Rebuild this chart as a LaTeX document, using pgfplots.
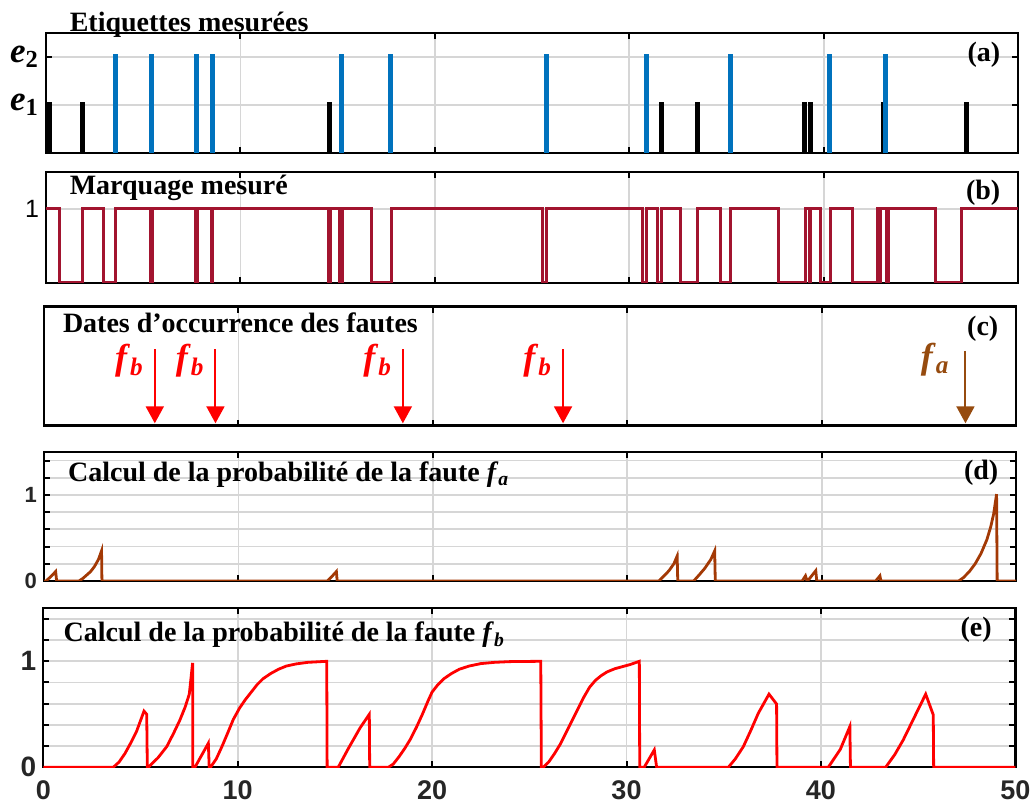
\documentclass[border=0pt]{standalone}
\usepackage{amsmath}
\usepackage{fontspec}
\setmainfont{Liberation Serif}
\newfontfamily\arialf{Liberation Sans}
\usepackage{pgfplots}
\pgfplotsset{compat=1.18}
\usetikzlibrary{arrows.meta}

\definecolor{mblue}{RGB}{0,114,189}
\definecolor{mred}{RGB}{162,20,47}
\definecolor{fabrown}{RGB}{163,57,5}
\definecolor{arrbrown}{RGB}{150,75,15}
\definecolor{gridc}{RGB}{214,214,214}
\definecolor{tickc}{RGB}{38,38,38}

\newcommand{\ttl}[1]{{\fontsize{14}{14}\selectfont\bfseries #1}}
\newcommand{\fsub}[2]{\textbf{\textit{#1}}\ensuremath{_{\textbf{\textit{#2}}}}}

\pgfplotsset{
  panel/.style={
    scale only axis, width=486pt,
    xmin=0, xmax=50,
    xtick={10,20,30,40}, xticklabels={},
    xmajorgrids, major grid style={gridc, line width=0.9pt},
    axis line style={black, line width=1.2pt},
    major tick length=3pt,
    tick style={black, line width=1pt},
    tick align=inside,
    clip mode=individual,
    anchor=south west,
  },
  probticks/.style={
    ymin=0, ymax=1.5,
    ytick={0,0.2,0.4,0.6,0.8,1,1.2,1.4},
    yticklabels={0,,,,,1,,},
    ymajorgrids,
  },
  fault/.style={line width=1pt, -{Triangle[width=9pt,length=8.5pt]}},
}

\begin{document}
\begin{tikzpicture}

% (a) etiquettes
\begin{axis}[panel, at={(23pt,327pt)}, height=60pt,
  ymin=0, ymax=2.5, ytick={1,2}, ymajorgrids,
  yticklabels={\textbf{\textit{e}}\ensuremath{_{\textbf{1}}}, \textbf{\textit{e}}\ensuremath{_{\textbf{2}}}},
  yticklabel style={font=\fontsize{17.5}{17.5}\selectfont}]
\addplot[ycomb, black, line width=2.5pt, mark=none] coordinates {
  (0.18,1.06) (1.9,1.06) (14.6,1.06) (31.66,1.06) (33.5,1.06)
  (39.0,1.06) (39.3,1.06) (43.1,1.06) (47.35,1.06)};
\addplot[ycomb, mblue, line width=2.5pt, mark=none] coordinates {
  (3.6,2.06) (5.44,2.06) (7.75,2.06) (8.58,2.06) (15.2,2.06) (17.73,2.06)
  (25.75,2.06) (30.9,2.06) (35.2,2.06) (40.3,2.06) (43.2,2.06)};
\node[anchor=base west] at (rel axis cs:0.0172,1.011) {\ttl{Etiquettes mesurées}};
\node[anchor=base east] at (rel axis cs:0.989,0.76) {\ttl{(a)}};
\end{axis}

% (b) marquage
\begin{axis}[panel, at={(23pt,262pt)}, height=55.5pt,
  ymin=0, ymax=1.5, ytick={1}, yticklabels={1}, ymajorgrids,
  yticklabel style={font=\arialf\fontsize{12.5}{12.5}\selectfont}]
\addplot[mred, line width=1.5pt, mark=none] coordinates {
  (0,1) (0.69,1) (0.69,0) (1.9,0) (1.9,1) (2.97,1) (2.97,0) (3.6,0) (3.6,1)
  (5.36,1) (5.36,0) (5.46,0) (5.46,1) (7.69,1) (7.69,0) (7.8,0) (7.8,1)
  (8.51,1) (8.51,0) (8.58,0) (8.58,1) (14.54,1) (14.54,0) (14.63,0) (14.63,1)
  (15.09,1) (15.09,0) (15.23,0) (15.23,1) (16.72,1) (16.72,0) (17.75,0) (17.75,1)
  (25.54,1) (25.54,0) (25.75,0) (25.75,1) (30.68,1) (30.68,0) (30.89,0) (30.89,1)
  (31.46,1) (31.46,0) (31.66,0) (31.66,1) (32.66,1) (32.66,0) (33.52,0) (33.52,1)
  (34.71,1) (34.71,0) (35.23,0) (35.23,1) (37.68,1) (37.68,0) (39.05,0) (39.05,1)
  (39.27,1) (39.27,0) (39.32,0) (39.32,1) (39.85,1) (39.85,0) (40.37,0) (40.37,1)
  (41.5,1) (41.5,0) (42.77,0) (42.77,1) (42.87,1) (42.87,0) (42.92,0) (42.92,1)
  (43.22,1) (43.22,0) (43.32,0) (43.32,1) (45.73,1) (45.73,0) (47.1,0) (47.1,1) (50,1)};
\node[anchor=base west] at (rel axis cs:0.0172,0.793) {\ttl{Marquage mesuré}};
\node[anchor=base east] at (rel axis cs:0.989,0.75) {\ttl{(b)}};
\end{axis}

% (c) dates des fautes
\begin{axis}[panel, at={(22pt,190.65pt)}, height=59.5pt,
  ymin=0, ymax=1, ytick=\empty]
\addplot[red, fault] coordinates {(5.7,0.642) (5.7,0.02)}
  node[pos=0, anchor=north east, inner sep=0pt, xshift=-5pt, yshift=3pt, text=red] {\fontsize{18}{18}\selectfont\fsub{f}{b}};
\addplot[red, fault] coordinates {(8.82,0.642) (8.82,0.02)}
  node[pos=0, anchor=north east, inner sep=0pt, xshift=-5pt, yshift=3pt, text=red] {\fontsize{18}{18}\selectfont\fsub{f}{b}};
\addplot[red, fault] coordinates {(18.46,0.642) (18.46,0.02)}
  node[pos=0, anchor=north east, inner sep=0pt, xshift=-5pt, yshift=3pt, text=red] {\fontsize{18}{18}\selectfont\fsub{f}{b}};
\addplot[red, fault] coordinates {(26.7,0.642) (26.7,0.02)}
  node[pos=0, anchor=north east, inner sep=0pt, xshift=-5pt, yshift=3pt, text=red] {\fontsize{18}{18}\selectfont\fsub{f}{b}};
\addplot[arrbrown, fault] coordinates {(47.4,0.628) (47.4,0.02)}
  node[pos=0, anchor=north east, inner sep=0pt, xshift=-7.5pt, yshift=4.6pt, text=arrbrown] {\fontsize{18}{18}\selectfont\fsub{f}{a}};
\node[anchor=base west] at (rel axis cs:0.0123,0.785) {\ttl{Dates d’occurrence des fautes}};
\node[anchor=base east] at (rel axis cs:0.989,0.76) {\ttl{(c)}};
\end{axis}

% (d) probabilite fa
\begin{axis}[panel, probticks, at={(22pt,113pt)}, height=64.5pt,
  yticklabel style={font=\arialf\bfseries\fontsize{11}{11}\selectfont, text=tickc}]
\addplot[fabrown, line width=1.4pt, mark=none] coordinates {
  (0,0) (0.1,0) (0.3,0.04) (0.6,0.11) (0.65,0) (1.8,0) (2.0,0.03) (2.2,0.07)
  (2.4,0.11) (2.6,0.17) (2.8,0.25) (2.96,0.35) (2.98,0)
  (14.57,0) (14.8,0.05) (15.04,0.11) (15.08,0)
  (31.63,0) (31.9,0.06) (32.15,0.12) (32.4,0.2) (32.57,0.29) (32.6,0)
  (33.42,0) (33.7,0.07) (34.0,0.15) (34.3,0.25) (34.5,0.35) (34.53,0)
  (39.0,0) (39.17,0.06) (39.25,0) (39.35,0.02) (39.7,0.12) (39.75,0)
  (42.78,0) (43.0,0.06) (43.05,0) (47.05,0) (47.3,0.04) (47.6,0.11) (47.9,0.2)
  (48.2,0.32) (48.5,0.48) (48.7,0.63) (48.85,0.78) (49.0,1.01) (49.03,0) (50,0)};
\node[anchor=base west] at (rel axis cs:0.0175,0.77) {\ttl{Calcul de la probabilité de la faute \fsub{f}{a}}};
\node[anchor=base east] at (rel axis cs:0.989,0.79) {\ttl{(d)}};
\end{axis}

% (e) probabilite fb
\begin{axis}[panel, probticks, at={(21.65pt,19.85pt)}, height=79.5pt,
  xtick={0,10,20,30,40,50}, xticklabels={0,10,20,30,40,50},
  ticklabel style={font=\arialf\bfseries\fontsize{14}{14}\selectfont, text=tickc},
  xticklabel style={inner sep=0pt, yshift=-6.5pt, font=\arialf\bfseries\fontsize{13.5}{13.5}\selectfont}]
\addplot[red, line width=1.4pt, mark=none] coordinates {
  (0,0) (3.6,0) (3.9,0.05) (4.2,0.13) (4.5,0.23) (4.8,0.34) (5.18,0.53)
  (5.32,0.50) (5.35,0) (5.4,0)
  (5.9,0.09) (6.35,0.195) (6.7,0.32) (7.03,0.447) (7.3,0.57) (7.51,0.69)
  (7.68,0.985) (7.69,0) (7.8,0)
  (8.49,0.227) (8.54,-0.03) (8.6,0) (8.9,0.08) (9.2,0.2) (9.5,0.33) (9.77,0.45)
  (10.1,0.56) (10.4,0.64) (10.7,0.71) (11.0,0.78) (11.3,0.835) (11.7,0.885)
  (12.1,0.925) (12.5,0.955) (13.0,0.975) (13.6,0.99) (14.58,1.0) (14.6,0)
  (15.17,0) (15.7,0.18) (16.29,0.37) (16.77,0.50) (16.79,0) (17.75,0)
  (18.0,0.03) (18.3,0.1) (18.6,0.18) (18.9,0.27) (19.2,0.38) (19.5,0.5)
  (19.8,0.63) (20.0,0.71) (20.3,0.78) (20.6,0.835) (21.0,0.885) (21.4,0.925)
  (21.9,0.955) (22.5,0.978) (23.2,0.99) (24.0,0.997) (25.59,1.0) (25.62,0)
  (25.72,0) (26.0,0.05) (26.3,0.13) (26.6,0.22) (26.9,0.33) (27.2,0.44)
  (27.5,0.55) (27.8,0.66) (28.1,0.755) (28.4,0.82) (28.7,0.865) (29.0,0.9)
  (29.4,0.93) (29.8,0.95) (30.2,0.97) (30.66,1.0) (30.68,0)
  (30.91,0) (31.43,0.164) (31.55,0) (35.24,0) (35.6,0.08) (36.01,0.195)
  (36.4,0.35) (36.78,0.51) (37.33,0.69) (37.72,0.597) (37.74,0) (40.38,0)
  (41.0,0.17) (41.49,0.385) (41.52,0) (43.33,0) (43.8,0.12) (44.24,0.26)
  (44.8,0.47) (45.39,0.69) (45.78,0.495) (45.8,0) (50,0)};
\node[anchor=base west] at (rel axis cs:0.0137,0.79) {\ttl{Calcul de la probabilité de la faute \fsub{f}{b}}};
\node[anchor=base east] at (rel axis cs:0.983,0.82) {\ttl{(e)}};
\end{axis}

\pgfresetboundingbox
\path[use as bounding box] (0,0) rectangle (516.5pt,403.5pt);
\end{tikzpicture}
\end{document}
